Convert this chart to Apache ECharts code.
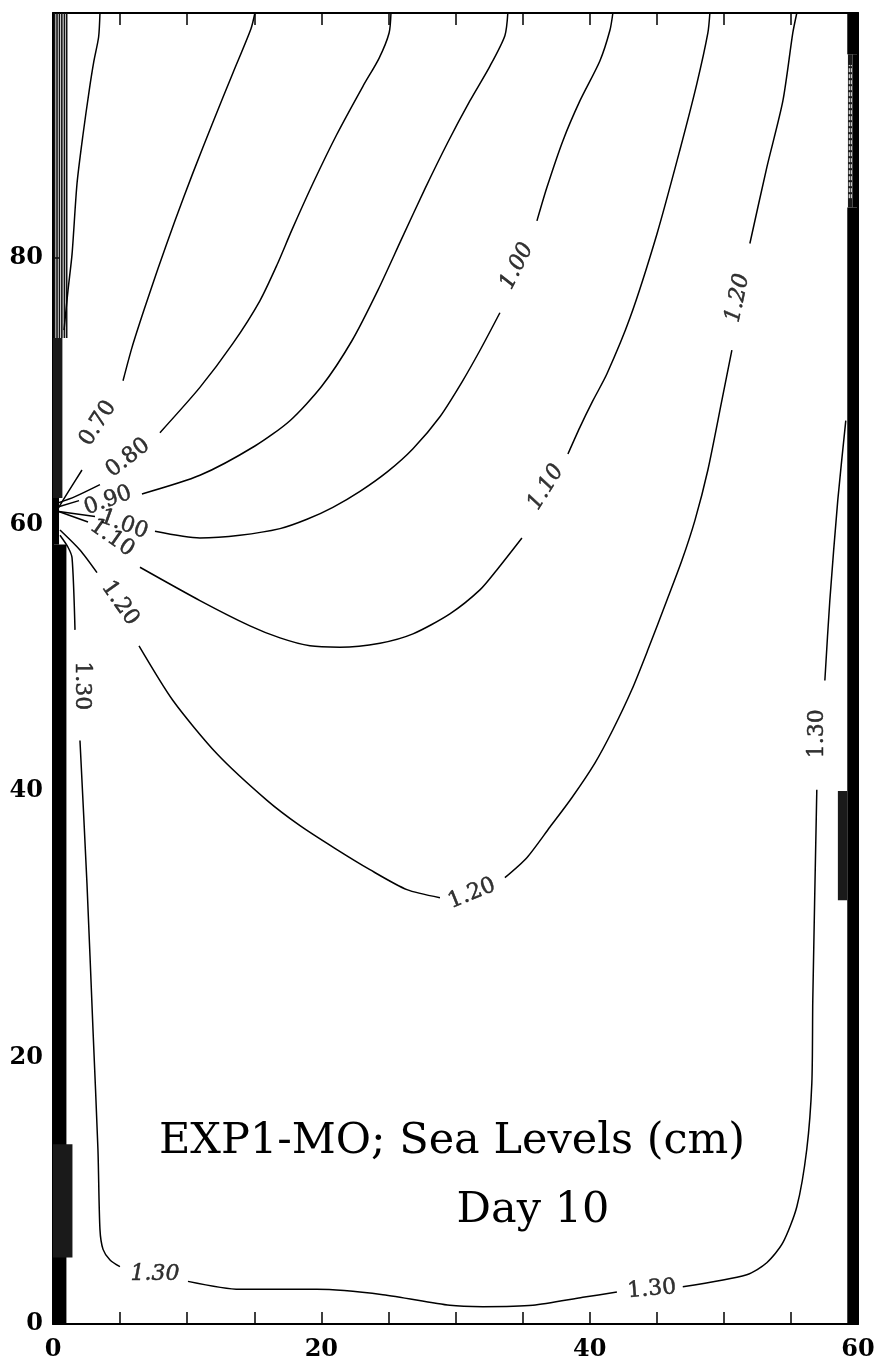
<!DOCTYPE html>
<html><head><meta charset="utf-8">
<script src="https://cdn.jsdelivr.net/npm/echarts@6/dist/echarts.min.js"></script>
<style>html,body{margin:0;padding:0;background:#fff}#c{width:880px;height:1371px}</style>
</head><body><div id="c"></div>
<script>
// ---- axis ranges / ticks ----
const xRange = [0, 60];
const yRange = [0, 98.4];
const xLabelEvery = 20;

// ---- contour lines (x, y in grid units); each array is one drawn piece ----
const c060a = [[3.50,98.4],[3.40,96.6],[3.05,94.8],[2.70,92.6],[2.24,89.3],[1.79,85.6],[1.42,80.3],[1.12,77.6],[0.82,74.6]];
const c070a = [[15.05,98.4],[14.75,97.2],[13.41,93.9],[11.92,90.2],[10.43,86.4],[9.09,82.8],[7.82,79.2],[6.78,76.1],[5.89,73.3],[5.22,70.8]];
const c070b = [[2.16,64.1],[1.04,62.3],[0.37,61.2]];
const c080a = [[25.19,98.4],[25.05,96.9],[24.30,95.0],[23.10,92.9],[21.16,89.3],[19.37,85.6],[17.80,82.1],[16.70,79.5],[15.42,76.8],[13.41,73.6],[10.95,70.3],[7.97,66.9]];
const c080b = [[3.50,63.0],[1.64,62.1],[0.30,61.6]];
const c090a = [[33.90,98.4],[33.68,96.7],[32.56,94.4],[31.07,91.8],[29.43,88.7],[27.72,85.2],[26.01,81.5],[24.22,77.6],[22.28,73.8],[20.04,70.4],[17.66,67.8],[15.05,65.9],[10.95,63.7],[6.63,62.3]];
const c090b = [[1.94,61.8],[0.30,61.3]];
const c100a = [[41.73,98.4],[41.51,97.1],[40.76,94.8],[39.27,91.8],[38.00,88.8],[36.81,85.3],[36.07,82.8]];
const c100b = [[33.31,75.9],[31.89,73.2],[30.48,70.7],[28.84,68.1],[26.83,65.7],[24.96,64.0],[22.88,62.5],[20.86,61.3],[18.93,60.4],[16.92,59.7],[13.93,59.2],[10.95,59.0],[7.60,59.5]];
const c100c = [[3.13,60.6],[0.30,61.0]];
const c110a = [[48.96,98.4],[48.81,96.9],[47.99,93.1],[46.72,88.1],[45.01,81.8],[43.00,75.5],[41.28,71.3],[40.24,69.3],[39.27,67.3],[38.38,65.3]];
const c110b = [[34.95,59.0],[33.08,56.6],[31.82,55.1],[29.58,53.3],[26.83,51.8],[24.37,51.1],[21.39,50.8],[19.15,50.9],[16.92,51.5],[14.68,52.4],[10.95,54.3],[6.48,56.8]];
const c110c = [[2.61,60.2],[0.37,61.0]];
const c120a = [[55.44,98.4],[55.14,96.9],[54.40,91.8],[53.20,86.8],[51.94,81.1]];
const c120b = [[50.60,73.1],[49.85,69.3],[48.81,64.1],[47.84,60.3],[46.87,57.3],[45.75,54.3],[44.34,50.6],[43.14,47.6],[41.73,44.6],[40.39,42.1],[38.67,39.5],[37.04,37.3],[35.32,35.0],[33.68,33.5]];
const c120c = [[28.84,32.0],[26.38,32.6],[23.62,34.1],[21.01,35.7],[18.41,37.4],[15.95,39.3],[12.22,42.8],[8.94,46.8],[6.41,50.9]];
const c120d = [[3.28,56.4],[2.01,58.1],[0.52,59.6]];
const c130a = [[0.52,59.2],[1.12,58.3],[1.42,57.5],[1.64,52.1]];
const c130b = [[2.01,43.8],[2.53,33.1],[2.98,22.1],[3.35,13.1],[3.50,7.1],[3.73,5.6],[4.25,4.8],[4.99,4.3]];
const c130c = [[10.06,3.2],[13.93,2.6],[19.67,2.6],[24.59,2.2],[29.58,1.4],[32.04,1.3],[35.77,1.4],[39.49,2.0],[42.03,2.4]];
const c130d = [[46.94,2.8],[51.71,3.7],[53.20,4.6],[54.40,6.1],[55.44,8.8],[56.18,13.1],[56.56,18.1],[56.63,24.3],[56.93,40.1]];
const c130e = [[57.53,48.3],[57.90,54.3],[58.49,61.8],[59.09,67.8]];

// ---- contour labels ----
const labelText  = ['0.70','0.80','0.90','1.00','1.10','1.20','1.00','1.10','1.20','1.20','1.30','1.30','1.30','1.30'];
const labelPos   = [[3.35,67.6],[5.59,65.0],[4.10,61.8],[5.29,60.0],[4.40,59.0],[4.99,54.1],[34.58,79.4],[36.74,62.8],[51.04,77.0],[31.22,32.3],[2.16,47.9],[7.60,3.7],[44.63,2.6],[57.00,44.3]];
const labelAngle = [57,38,20,-20,-35,-55,63,58,78,22,-90,0,5,90];
const labelItalic= [false,false,false,false,false,false,true,true,true,false,false,true,false,false];

// ---- crowded boundary bands (x0, y0, x1, y1) ----
const solidBands   = [[0,0,1.0,58.5],[0,58.5,0.45,62],[59.2,0,60,83.8],[59.2,95.3,60,98.4],[59.6,83.8,60,95.3]];
const darkBands    = [[0,62,0.7,74],[0,5,1.45,13.5],[58.5,31.8,59.2,40],[59.25,83.8,59.6,95.3]];
const leftHatchX   = [0.12,0.3,0.48,0.66,0.85,1.02];
const leftHatchY   = [74, 98.4];
const rightGapX    = [59.35,59.5];
const rightGapY    = [84.5, 94.5];

const contourPieces = [c060a,c070a,c070b,c080a,c080b,c090a,c090b,c100a,c100b,c100c,
  c110a,c110b,c110c,c120a,c120b,c120c,c120d,c130a,c130b,c130c,c130d,c130e];

const chart = echarts.init(document.getElementById('c'), null, {renderer:'canvas'});
const serif = '"DejaVu Serif", "Liberation Serif", serif';
const series = [];

contourPieces.forEach(p => series.push({
  type:'line', data:p, smooth:0.25, symbol:'none', clip:true, silent:true,
  lineStyle:{color:'#000', width:1.5}, z:3
}));
leftHatchX.forEach(x => series.push({
  type:'line', data:[[x,leftHatchY[0]],[x,leftHatchY[1]]], symbol:'none', clip:true, silent:true,
  lineStyle:{color:'#111', width:1.6}, z:2
}));

function rectSeries(data, color, z){
  return {
    type:'custom', data:data, silent:true, z:z, clip:true,
    renderItem:(params, api) => {
      const a = api.coord([api.value(0), api.value(3)]);
      const b = api.coord([api.value(2), api.value(1)]);
      return {type:'rect', shape:{x:a[0], y:a[1], width:b[0]-a[0], height:b[1]-a[1]}, style:{fill:color}};
    },
    encode:{x:[0,2], y:[1,3]}
  };
}
series.push(rectSeries(solidBands, '#000', 2));
series.push(rectSeries(darkBands, '#1a1a1a', 2));
rightGapX.forEach(x => series.push({
  type:'line', data:[[x,rightGapY[0]],[x,rightGapY[1]]], symbol:'none', clip:true, silent:true,
  lineStyle:{color:'#fff', width:1, type:'dashed'}, z:4
}));

series.push({
  type:'scatter', symbolSize:0, silent:true, z:5,
  data: labelPos.map((p,i) => ({
    value:p,
    label:{show:true, position:'inside', formatter:labelText[i], rotate:labelAngle[i],
      fontStyle: labelItalic[i] ? 'italic' : 'normal', textBorderColor:'#000', textBorderWidth:0.5,
      fontFamily:serif, fontSize:22, color:'#000'}
  }))
});

const axisCommon = {
  axisLine:{show:true, onZero:false, lineStyle:{color:'#000', width:2}},
  splitLine:{show:false}
};

chart.setOption({
  animation:false,
  backgroundColor:'#fff',
  grid:{left:53, right:22, top:13, bottom:47},
  xAxis:[
    Object.assign({type:'value', position:'bottom', min:xRange[0], max:xRange[1], interval:5,
      axisTick:{show:true, inside:true, length:12, lineStyle:{color:'#000', width:1.5}},
      axisLabel:{margin:14, fontFamily:serif, fontSize:24, fontWeight:'bold', color:'#000',
        formatter:v => (v % xLabelEvery === 0 ? String(v) : '')}}, axisCommon),
    Object.assign({type:'value', position:'top', min:xRange[0], max:xRange[1], interval:5,
      axisTick:{show:true, inside:true, length:12, lineStyle:{color:'#000', width:1.5}},
      axisLabel:{show:false}}, axisCommon)
  ],
  yAxis:[
    Object.assign({type:'value', position:'left', min:yRange[0], max:yRange[1], interval:20,
      axisTick:{show:true, inside:true, length:6, lineStyle:{color:'#000', width:1.5}},
      axisLabel:{margin:10, fontFamily:serif, fontSize:24, fontWeight:'bold', color:'#000', showMaxLabel:false,
        formatter:v => (v % 20 === 0 ? String(v) : '')}}, axisCommon),
    Object.assign({type:'value', position:'right', min:yRange[0], max:yRange[1], interval:20,
      axisTick:{show:true, inside:true, length:6, lineStyle:{color:'#000', width:1.5}},
      axisLabel:{show:false}}, axisCommon)
  ],
  graphic:[
    {type:'text', x:452, y:1142, z:10, style:{text:'EXP1-MO; Sea Levels (cm)', font:'43px "DejaVu Serif", serif', fill:'#000', textAlign:'center', textVerticalAlign:'middle'}},
    {type:'text', x:533, y:1211, z:10, style:{text:'Day 10', font:'43px "DejaVu Serif", serif', fill:'#000', textAlign:'center', textVerticalAlign:'middle'}}
  ],
  series:series
});
</script></body></html>
